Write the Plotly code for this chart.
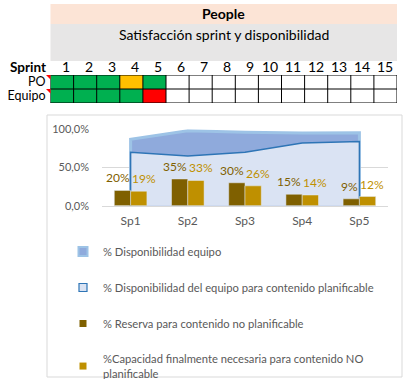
import plotly.graph_objects as go

# ---------------- data ----------------
sprints_table = list(range(1, 16))
po_status = ["G", "G", "G", "Y", "G"]
equipo_status = ["G", "G", "G", "G", "R"]
row_labels = ["PO", "Equipo"]

categories = ["Sp1", "Sp2", "Sp3", "Sp4", "Sp5"]
disp_equipo = [0.87, 0.98, 0.96, 0.95, 0.955]
disp_planificable = [0.70, 0.65, 0.70, 0.82, 0.84]
reserva = [0.20, 0.35, 0.30, 0.15, 0.09]
capacidad = [0.19, 0.33, 0.26, 0.14, 0.12]

series_names = [
    "% Disponibilidad equipo",
    "% Disponibilidad del equipo para contenido planificable",
    "% Reserva para contenido no planificable",
    "%Capacidad finalmente necesaria para contenido NO<br>planificable",
]

title_top = "People"
title_sub = "Satisfacción sprint y disponibilidad"

# ---------------- helpers ----------------
W, H = 405, 379
def X(px):
    return px / W
def Y(py):
    return 1 - py / H

FONT = "Lato, 'Noto Sans', sans-serif"
GREY_TXT = "#595959"

code = {"G": 1, "Y": 2, "R": 3}
def row_codes(st):
    return [code[s] for s in st] + [0] * (len(sprints_table) - len(st))
z = [row_codes(po_status), row_codes(equipo_status)]

fig = go.Figure()

# ---------------- status table (heatmap) ----------------
fig.add_trace(go.Heatmap(
    x=sprints_table, y=row_labels, z=z, zmin=0, zmax=3,
    colorscale=[[0, "#ffffff"], [1/6, "#ffffff"], [1/6, "#00b050"], [0.5, "#00b050"],
                [0.5, "#ffc000"], [5/6, "#ffc000"], [5/6, "#ff0000"], [1, "#ff0000"]],
    showscale=False, hoverinfo="skip", xaxis="x2", yaxis="y2", showlegend=False,
))

# ---------------- main chart ----------------
area_styles = [
    dict(fill="#8faadc", line="#9dc3e6", lw=3),
    dict(fill="#dae3f3", line="#2e75b6", lw=1.5),
]
bar_colors = ["#7f6000", "#bf9000"]

poly_x = [categories[0]] + categories + [categories[-1]]
for vals, st in zip([disp_equipo, disp_planificable], area_styles):
    fig.add_trace(go.Scatter(
        x=poly_x, y=[0] + vals + [0], fill="toself", mode="lines",
        fillcolor=st["fill"], line=dict(color=st["line"], width=st["lw"]),
        showlegend=False, hoverinfo="skip",
    ))
for vals, col, nm in zip([reserva, capacidad], bar_colors, series_names[2:]):
    fig.add_trace(go.Bar(
        x=categories, y=vals, name=nm, marker_color=col, showlegend=False,
        xaxis="x3", yaxis="y3", hoverinfo="skip",
    ))

# legend entries (square swatches like the spreadsheet legend)
legend_swatches = [
    dict(color="#8faadc", line="#9dc3e6", lw=2, size=9),
    dict(color="#dae3f3", line="#2e75b6", lw=1.2, size=8),
    dict(color="#7f6000", line="#7f6000", lw=0, size=7),
    dict(color="#bf9000", line="#bf9000", lw=0, size=7),
]
for nm, sw, grp in zip(series_names, legend_swatches, "abcd"):
    fig.add_trace(go.Scatter(
        x=[None], y=[None], mode="markers", name=nm, legendgroup=grp,
        marker=dict(symbol="square", size=sw["size"], color=sw["color"],
                    line=dict(color=sw["line"], width=sw["lw"])),
        hoverinfo="skip",
    ))

shapes = []
# header bands
shapes.append(dict(type="rect", xref="paper", yref="paper", x0=X(50.5), x1=X(397), y0=Y(24), y1=Y(4),
                   fillcolor="#fce4d6", line=dict(width=0), layer="below"))
shapes.append(dict(type="rect", xref="paper", yref="paper", x0=X(50.5), x1=X(397), y0=Y(61), y1=Y(24),
                   fillcolor="#e7e6e6", line=dict(width=0), layer="below"))
# table grid
for k in range(len(sprints_table) + 1):
    shapes.append(dict(type="line", xref="x2", yref="y2 domain", x0=k + 0.5, x1=k + 0.5, y0=0, y1=1,
                       line=dict(color="black", width=1), layer="above"))
for k in range(len(row_labels) + 1):
    shapes.append(dict(type="line", xref="x2 domain", yref="y2", x0=0, x1=1, y0=k - 0.5, y1=k - 0.5,
                       line=dict(color="black", width=1), layer="above"))
# comment indicators
for top in (75, 89):
    shapes.append(dict(type="path", xref="paper", yref="paper",
                       path=f"M {X(46)},{Y(top)} L {X(50.5)},{Y(top)} L {X(50.5)},{Y(top+4.5)} Z",
                       fillcolor="#ff0000", line=dict(width=0)))
# chart frame
shapes.append(dict(type="rect", xref="paper", yref="paper", x0=X(47), x1=X(402), y0=Y(377), y1=Y(115),
                   line=dict(color="#d9d9d9", width=1), fillcolor="rgba(0,0,0,0)", layer="below"))

annotations = [
    dict(text=f"<b>{title_top}</b>", xref="paper", yref="paper", x=X(224), y=Y(14),
         xanchor="center", yanchor="middle",
         showarrow=False, font=dict(size=14, color="black", family=FONT)),
    dict(text=title_sub, xref="paper", yref="paper", x=X(224), y=Y(35),
         xanchor="center", yanchor="middle",
         showarrow=False, font=dict(size=14, color="black", family=FONT)),
    dict(text="<b>Sprint</b>", xref="paper", yref="paper", x=X(47.5), y=Y(67),
         xanchor="right", yanchor="middle",
         showarrow=False, font=dict(size=13.5, color="black", family=FONT)),
]
for s in sprints_table:
    annotations.append(dict(text=str(s), xref="x2", yref="paper", x=s + 0.5, y=Y(67),
                            xanchor="right", yanchor="middle", xshift=-2, showarrow=False,
                            font=dict(size=14, color="black", family=FONT)))

# bar value labels: first series right-aligned to its bar, second left-aligned
for vals, col, anchor in zip([reserva, capacidad], bar_colors, ["right", "left"]):
    for c, v in zip(categories, vals):
        annotations.append(dict(text=f"{v:.0%}", xref="x3", yref="y3", x=c, y=v,
                                xanchor=anchor, yanchor="bottom",
                                xshift=0, yshift=4, showarrow=False, borderpad=0,
                                font=dict(size=12, color=col, family=FONT)))

fig.update_layout(
    width=W, height=H, margin=dict(l=0, r=0, t=0, b=0, autoexpand=False),
    paper_bgcolor="white", plot_bgcolor="white",
    font=dict(family=FONT, color=GREY_TXT, size=12),
    separators=",.",
    barmode="group", bargap=0.43, bargroupgap=0,
    showlegend=True,
    legend=dict(xref="container", yref="container", x=X(63), y=Y(237),
                xanchor="left", yanchor="top", traceorder="grouped",
                tracegroupgap=17, font=dict(size=11.2, color=GREY_TXT, family=FONT),
                bgcolor="rgba(0,0,0,0)", itemclick=False, itemwidth=30),
    xaxis=dict(domain=[X(102), X(388)], type="category", categoryorder="array",
               categoryarray=categories, range=[-0.5, 4.5], showgrid=False, showline=True,
               linecolor="#d9d9d9", ticks="", tickfont=dict(size=12, color=GREY_TXT),
               ticklabelstandoff=4, fixedrange=True, anchor="y"),
    yaxis=dict(domain=[Y(205.7), Y(129.3)], range=[0, 1.0], tickvals=[0, 0.5, 1.0],
               tickformat=".1%", showgrid=True, gridcolor="#d9d9d9", zeroline=False,
               showline=False, ticks="", ticklabelstandoff=12, anchor="x",
               tickfont=dict(size=11, color=GREY_TXT), fixedrange=True),
    xaxis3=dict(overlaying="x", anchor="y3", type="category", categoryorder="array",
                categoryarray=categories, range=[-0.5, 4.5], visible=False, fixedrange=True),
    yaxis3=dict(overlaying="y", anchor="x3", range=[0, 1.0], visible=False, fixedrange=True),
    xaxis2=dict(domain=[X(50.5), X(397)], range=[0.5, 15.5], visible=False, fixedrange=True,
                anchor="y2"),
    yaxis2=dict(domain=[Y(103), Y(75)], range=[1.5, -0.5], type="category", anchor="x2",
                categoryorder="array", categoryarray=row_labels,
                tickmode="array", tickvals=row_labels, ticktext=row_labels,
                showgrid=False, zeroline=False, showline=False, ticks="",
                tickfont=dict(size=12.5, color="black", family=FONT), ticklabelstandoff=4,
                fixedrange=True),
    shapes=shapes, annotations=annotations,
)

fig.write_html("out.html", post_script="document.body.style.margin='0';",
               config={"displayModeBar": False})
